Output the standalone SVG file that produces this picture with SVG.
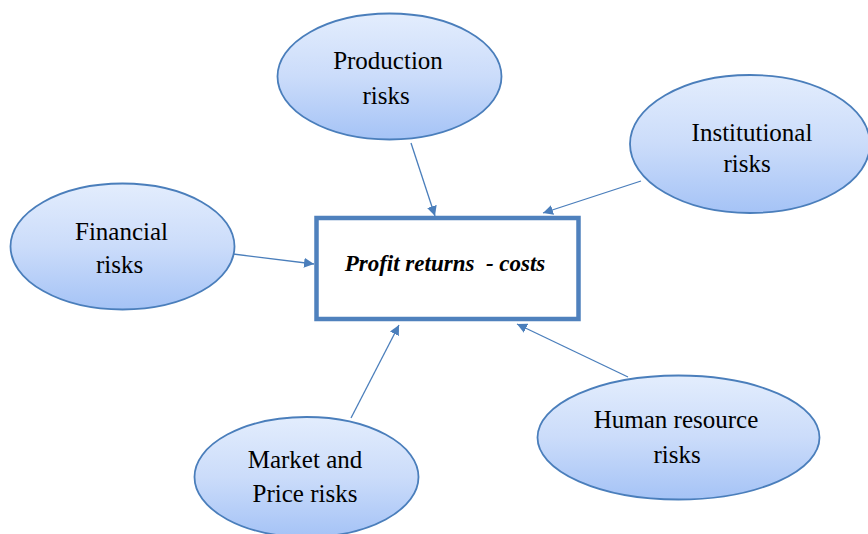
<svg xmlns="http://www.w3.org/2000/svg" width="868" height="534" viewBox="0 0 868 534">
<defs>
<linearGradient id="g" x1="0" y1="0" x2="0" y2="1">
<stop offset="0" stop-color="#e3edfd"/>
<stop offset="0.5" stop-color="#cbdcfa"/>
<stop offset="1" stop-color="#a5c3f6"/>
</linearGradient>
<marker id="ah" viewBox="0 0 10 10" refX="10" refY="5" markerWidth="10" markerHeight="10" markerUnits="userSpaceOnUse" orient="auto">
<path d="M0,0 L10,5 L0,10 z" fill="#4a7ebb"/>
</marker>
<style>
.node ellipse{fill:url(#g);stroke:#4a7ebb;stroke-width:1.8}
text{font-family:'Liberation Serif','Times New Roman',serif}
.lbl{font-size:25px;fill:#000;text-anchor:middle}
.conn line{stroke:#4a7ebb;stroke-width:1.3;marker-end:url(#ah)}
</style>
</defs>
<rect width="868" height="534" fill="#fff"/>
<g id="connectors" class="conn">
<line x1="411" y1="143" x2="435" y2="216"/>
<line x1="641" y1="181" x2="543" y2="213"/>
<line x1="233" y1="254" x2="314" y2="264"/>
<line x1="351" y1="418" x2="399" y2="325"/>
<line x1="628" y1="377" x2="517" y2="324"/>
</g>
<g id="center">
<rect x="316.5" y="218" width="262" height="101" fill="#fff" stroke="#4f81bd" stroke-width="4.5"/>
<text x="445" y="271" font-size="23" font-weight="bold" font-style="italic" text-anchor="middle" xml:space="preserve">Profit returns  - costs</text>
</g>
<g id="production" class="node">
<ellipse cx="389.5" cy="76.5" rx="112" ry="63"/>
<text class="lbl" x="388" y="69">Production</text>
<text class="lbl" x="386" y="104">risks</text>
</g>
<g id="institutional" class="node">
<ellipse cx="750" cy="144" rx="120" ry="69"/>
<text class="lbl" x="752" y="141">Institutional</text>
<text class="lbl" x="747" y="172">risks</text>
</g>
<g id="financial" class="node">
<ellipse cx="122.5" cy="246.5" rx="112" ry="63"/>
<text class="lbl" x="121.5" y="240">Financial</text>
<text class="lbl" x="119.5" y="273">risks</text>
</g>
<g id="market" class="node">
<ellipse cx="306.5" cy="477" rx="112" ry="60"/>
<text class="lbl" x="305" y="468">Market and</text>
<text class="lbl" x="305" y="502">Price risks</text>
</g>
<g id="human" class="node">
<ellipse cx="678.5" cy="437.5" rx="141" ry="62"/>
<text class="lbl" x="676" y="428">Human resource</text>
<text class="lbl" x="677" y="463">risks</text>
</g>
</svg>
